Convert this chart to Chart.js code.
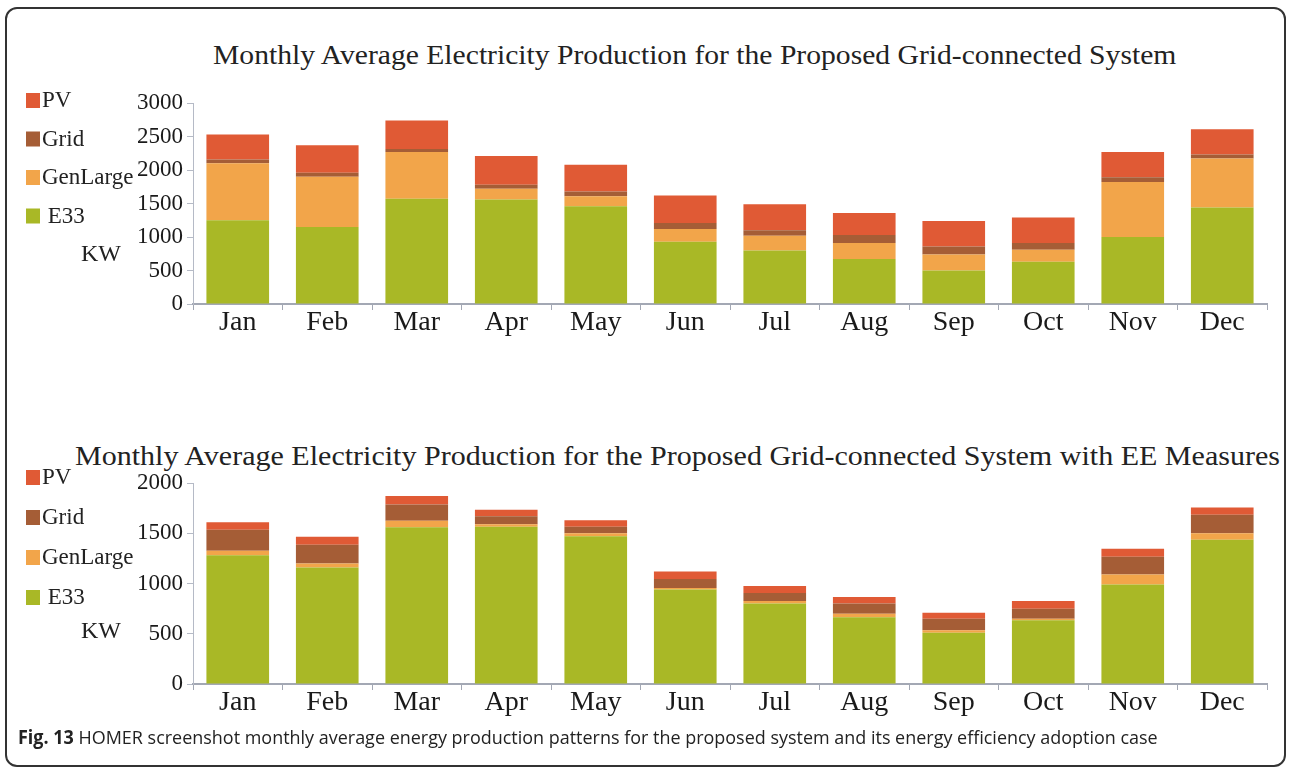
<!DOCTYPE html>
<html>
<head>
<meta charset="utf-8">
<script src="https://cdn.jsdelivr.net/npm/chart.js@4.4.1/dist/chart.umd.min.js"></script>
<style>
  body { margin: 0; background: #fff; }
  #page { position: relative; width: 1289px; height: 770px; overflow: hidden; background: #fff; }
  #frame { position: absolute; left: 5px; top: 7px; width: 1277px; height: 756px; border: 2px solid #333; border-radius: 12px; }
  .title { position: absolute; color: #222; white-space: nowrap; font-size: 27px; transform-origin: left top;
           font-family: "Liberation Serif", "Times New Roman", serif; }
  canvas { position: absolute; }
  #caption { position: absolute; left: 18px; top: 724px; font-family: "Open Sans", sans-serif; font-size: 19px; color: #222; white-space: nowrap; transform-origin: left top; }
</style>
</head>
<body>
<div id="page">
  <div id="frame"></div>
  <div class="title" id="t1" style="top:40px; left:213px;">Monthly Average Electricity Production for the Proposed Grid-connected System</div>
  <div class="title" id="t2" style="top:441px; left:75px;">Monthly Average Electricity Production for the Proposed Grid-connected System with EE Measures</div>

  <canvas id="chart1" width="1289" height="262" style="left:0; top:85px;"></canvas>
  <canvas id="chart2" width="1289" height="262" style="left:0; top:465px;"></canvas>

  <div id="caption"><b>Fig. 13</b> HOMER screenshot monthly average energy production patterns for the proposed system and its energy efficiency adoption case</div>
</div>
<script>
const months = ['Jan', 'Feb', 'Mar', 'Apr', 'May', 'Jun', 'Jul', 'Aug', 'Sep', 'Oct', 'Nov', 'Dec'];

// base case (kW per source, stacked)
const e33Base      = [1250, 1150, 1570, 1560, 1460, 930, 800, 670, 500, 630, 1000, 1440];
const genLargeBase = [850, 750, 700, 160, 150, 190, 220, 240, 240, 180, 820, 730];
const gridBase     = [55, 60, 45, 60, 70, 90, 80, 120, 120, 100, 70, 60];
const pvBase       = [375, 410, 425, 430, 400, 410, 390, 330, 380, 380, 380, 380];

// with EE measures
const e33EE      = [1280, 1160, 1560, 1565, 1470, 940, 800, 665, 510, 635, 990, 1435];
const genLargeEE = [45, 40, 65, 25, 30, 15, 25, 35, 25, 15, 100, 65];
const gridEE     = [210, 185, 160, 80, 65, 90, 80, 100, 115, 100, 175, 185];
const pvEE       = [75, 80, 85, 65, 65, 75, 70, 65, 60, 75, 80, 70];

const colors = { e33: '#a9b826', gen: '#f2a54a', grid: '#a55d36', pv: '#e05a35' };
const serif = '"Liberation Serif", "Times New Roman", serif';

// old-style legend stacked at the left, top entry first, plus the KW label
const sideLegend = {
    id: 'sideLegend',
    afterDraw(chart, args, opts) {
        const ctx = chart.ctx;
        ctx.save();
        ctx.font = '23px ' + serif;
        ctx.fillStyle = '#222';
        ctx.textBaseline = 'middle';
        const items = chart.data.datasets.slice().reverse();
        items.forEach((d, i) => {
            const y = opts.top + i * opts.gap;
            ctx.fillStyle = d.backgroundColor;
            ctx.fillRect(26, y - 8, 14, 15);
            ctx.fillStyle = '#222';
            ctx.fillText((d.label === 'E33' ? ' ' : '') + d.label, 42, y);
        });
        ctx.font = '24px ' + serif;
        ctx.fillText('KW', 81, opts.kwY);
        ctx.restore();
    }
};

function makeChart(id, e33, gen, grid, pv, yMax, legendOpts) {
    const ctx = document.getElementById(id).getContext('2d');
    const ds = (label, data, color) => ({
        label: label, data: data, backgroundColor: color, borderWidth: 0,
        barPercentage: 0.7, categoryPercentage: 1.0
    });
    return new Chart(ctx, {
        type: 'bar',
        data: {
            labels: months,
            datasets: [
                ds('E33', e33, colors.e33),
                ds('GenLarge', gen, colors.gen),
                ds('Grid', grid, colors.grid),
                ds('PV', pv, colors.pv)
            ]
        },
        plugins: [sideLegend],
        options: {
            responsive: false,
            animation: false,
            layout: { padding: { top: 18, right: 22, left: 0, bottom: 0 } },
            plugins: { legend: { display: false }, tooltip: { enabled: false }, sideLegend: legendOpts },
            scales: {
                x: {
                    stacked: true,
                    afterFit: s => { s.height = 43; },
                    border: { color: '#a3a8b4', width: 2 },
                    grid: { offset: true, drawOnChartArea: false, tickLength: 6, color: '#a3a8b4' },
                    ticks: { color: '#1a1a1a', padding: -4, font: { family: serif, size: 28 } }
                },
                y: {
                    stacked: true,
                    min: 0, max: yMax,
                    afterFit: s => { s.width = 193; },
                    border: { color: '#b5bac6', width: 1 },
                    grid: { drawOnChartArea: false, tickLength: 6, color: '#b5bac6' },
                    ticks: {
                        stepSize: 500, color: '#1a1a1a', padding: 4,
                        font: { family: serif, size: 23 },
                        callback: v => String(v)
                    }
                }
            }
        }
    });
}

makeChart('chart1', e33Base, genLargeBase, gridBase, pvBase, 3000, { top: 16, gap: 38.5, kwY: 170 });
makeChart('chart2', e33EE, genLargeEE, gridEE, pvEE, 2000, { top: 13, gap: 40, kwY: 167 });

// stretch/squeeze text blocks to their widths in the figure
function fitWidth(id, w) {
    const el = document.getElementById(id);
    el.style.transform = 'scaleX(' + (w / el.scrollWidth) + ')';
}
fitWidth('t1', 963);
fitWidth('t2', 1205);
fitWidth('caption', 1140);
</script>
</body>
</html>
